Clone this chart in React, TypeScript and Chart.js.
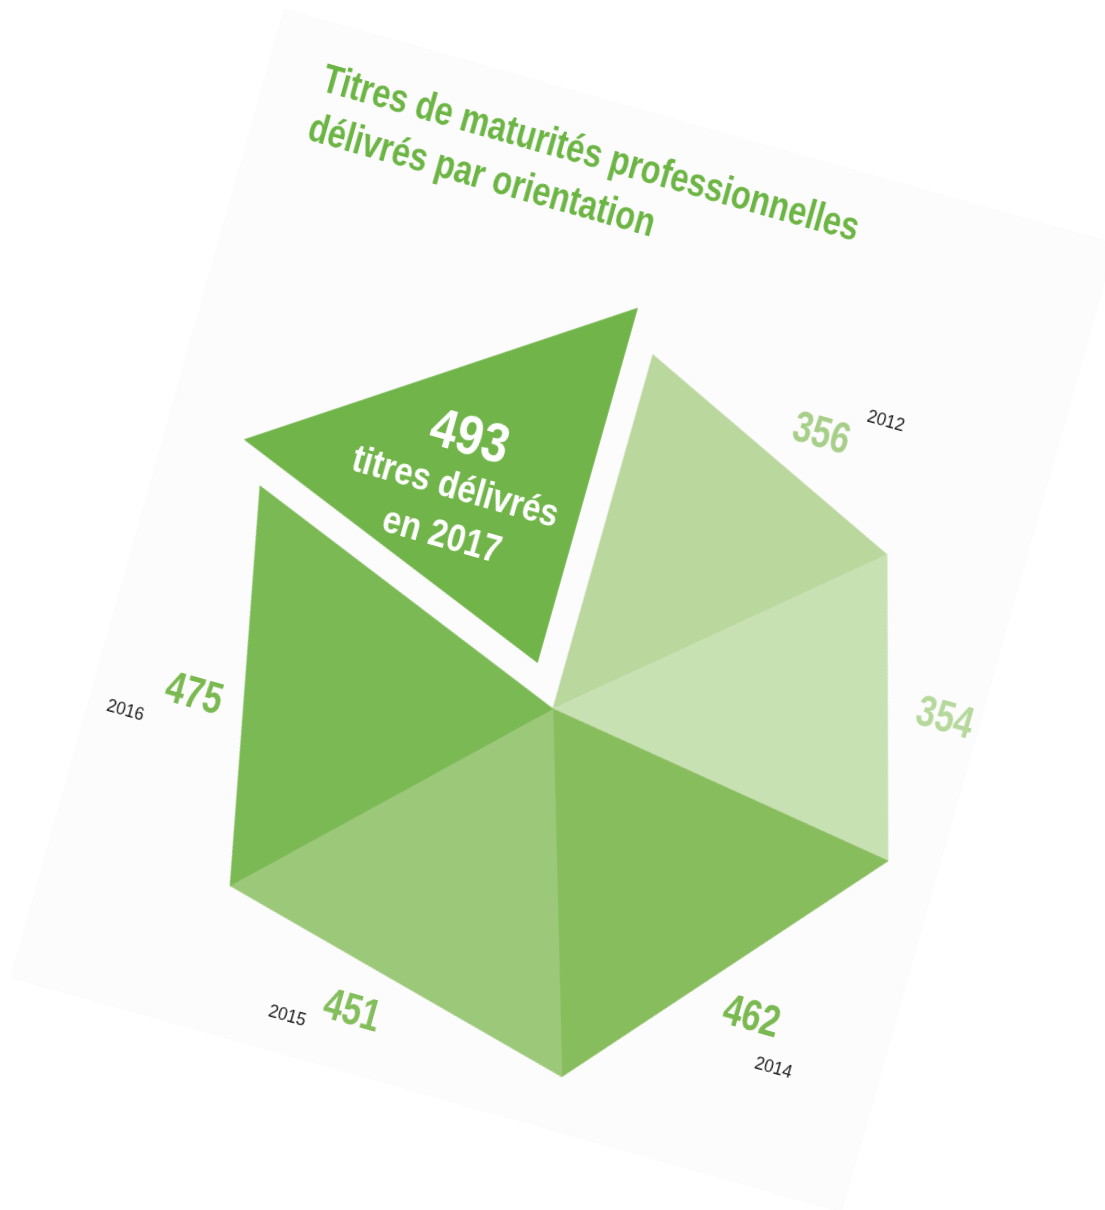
import React, { useEffect, useRef } from 'react';
import { Chart, registerables } from 'chart.js';

Chart.register(...registerables);

// ---- data ----
const years = ['2012', '2013', '2014', '2015', '2016', '2017'];
const titresDelivres = [356, 354, 462, 451, 475, 493];
const yearTags = ['2012', '', '2014', '2015', '2016', ''];
const sliceColors = ['#bad79e', '#c8e1b2', '#88bd5e', '#9cc879', '#7ab953', '#71b44a'];
const valueColors = ['#a8cf8a', '#b6d89d', '#7ab850', '#84be5c', '#7ab850', '#ffffff'];
const titleLines = ['Titres de maturités professionnelles', 'délivrés par orientation'];
const highlightLines = ['titres délivrés', 'en ' + years[years.length - 1]];

// ---- styling / layout constants ----
const SANS = "'Liberation Sans', Arial, Helvetica, 'DejaVu Sans', sans-serif";
const CARD_W = 862;
const CARD_H = 1005;
const CANVAS_H = 1100;
const CARD_CX = 563.2;
const CARD_CY = 610.7;
const ROT_DEG = 15.77;
const RADIUS = 368;
const EXPLODE = 49;
const labelAngleNudge = [3.9, 1.8, 0.9, 3.6, -2.2, 0];
const labelGap = [49, 57, 56, 50, 51, 0];
const yearOffsets: number[][] = [[58.7, -30.4], [0, 0], [34.9, 41.4], [-61, 20.8], [-61.6, 32.9], [0, 0]];
const DEG = Math.PI / 180;

function slicePoints(arc: any): number[][] {
  const off = (arc.options && arc.options.offset) || 0;
  const mid = (arc.startAngle + arc.endAngle) / 2;
  const cx = arc.x + Math.cos(mid) * off;
  const cy = arc.y + Math.sin(mid) * off;
  const r = arc.outerRadius;
  return [
    [cx, cy],
    [cx + r * Math.cos(arc.startAngle), cy + r * Math.sin(arc.startAngle)],
    [cx + r * Math.cos(arc.endAngle), cy + r * Math.sin(arc.endAngle)],
  ];
}

// draws text with a horizontal condensing factor (condensed-font look)
function drawText(
  ctx: CanvasRenderingContext2D,
  text: string,
  x: number,
  y: number,
  font: string,
  color: string,
  sx = 1,
  align: CanvasTextAlign = 'center',
  baseline: CanvasTextBaseline = 'middle',
) {
  ctx.save();
  ctx.translate(x, y);
  ctx.scale(sx, 1);
  ctx.font = font;
  ctx.fillStyle = color;
  ctx.textAlign = align;
  ctx.textBaseline = baseline;
  ctx.fillText(text, 0, 0);
  ctx.restore();
}

const cardTitle = {
  id: 'cardTitle',
  afterDraw(chart: any, _args: any, opts: any) {
    const ctx: CanvasRenderingContext2D = chart.ctx;
    const font = `bold ${opts.size}px ${SANS}`;
    ctx.save();
    ctx.font = font;
    const w = ctx.measureText(opts.lines[0]).width;
    ctx.restore();
    const sx = w > 0 ? opts.firstLineWidth / w : 1;
    opts.lines.forEach((line: string, i: number) => {
      drawText(ctx, line, opts.x, opts.baseline + i * opts.lineHeight, font, opts.color, sx, 'left', 'alphabetic');
    });
  },
};

const hexSlices = {
  id: 'hexSlices',
  beforeDatasetDraw(chart: any, args: any) {
    const ctx: CanvasRenderingContext2D = chart.ctx;
    args.meta.data.forEach((arc: any) => {
      const pts = slicePoints(arc);
      const color = arc.options.backgroundColor;
      ctx.save();
      ctx.beginPath();
      ctx.moveTo(pts[0][0], pts[0][1]);
      ctx.lineTo(pts[1][0], pts[1][1]);
      ctx.lineTo(pts[2][0], pts[2][1]);
      ctx.closePath();
      ctx.fillStyle = color;
      ctx.fill();
      ctx.strokeStyle = color;
      ctx.lineWidth = 0.8;
      ctx.stroke();
      ctx.restore();
    });
    return false;
  },
};

const sliceLabels = {
  id: 'sliceLabels',
  afterDatasetsDraw(chart: any) {
    const ctx: CanvasRenderingContext2D = chart.ctx;
    const meta = chart.getDatasetMeta(0);
    const values = chart.data.datasets[0].data as number[];
    meta.data.forEach((arc: any, i: number) => {
      const off = (arc.options && arc.options.offset) || 0;
      if (off > 0) {
        const pts = slicePoints(arc);
        const gx = (pts[0][0] + pts[1][0] + pts[2][0]) / 3 - 12.3;
        const gy = (pts[0][1] + pts[1][1] + pts[2][1]) / 3;
        drawText(ctx, String(values[i]), gx, gy - 28.9, `bold 56px ${SANS}`, valueColors[i], 0.85);
        drawText(ctx, highlightLines[0], gx, gy + 22.8, `bold 38px ${SANS}`, valueColors[i], 0.86);
        drawText(ctx, highlightLines[1], gx, gy + 72.4, `bold 38px ${SANS}`, valueColors[i], 0.87);
        return;
      }
      const half = (arc.endAngle - arc.startAngle) / 2;
      const mid = (arc.startAngle + arc.endAngle) / 2 + labelAngleNudge[i] * DEG;
      const r = arc.outerRadius * Math.cos(half) + labelGap[i];
      const x = arc.x + Math.cos(mid) * r;
      const y = arc.y + Math.sin(mid) * r;
      drawText(ctx, String(values[i]), x, y, `bold 44px ${SANS}`, valueColors[i], 0.78);
      if (yearTags[i]) {
        drawText(ctx, yearTags[i], x + yearOffsets[i][0], y + yearOffsets[i][1], `18px ${SANS}`, '#1a1a1a', 0.95);
      }
    });
  },
};

export default function App() {
  const canvasRef = useRef<HTMLCanvasElement | null>(null);

  useEffect(() => {
    const canvas = canvasRef.current;
    if (!canvas) return;
    const chart = new Chart(canvas, {
      type: 'pie',
      data: {
        labels: years,
        datasets: [
          {
            data: titresDelivres,
            backgroundColor: sliceColors,
            borderWidth: 0,
            offset: titresDelivres.map((_, i) => (i === titresDelivres.length - 1 ? EXPLODE : 0)),
          } as any,
        ],
      },
      options: {
        responsive: false,
        animation: false,
        events: [],
        radius: RADIUS,
        rotation: 0,
        layout: { padding: { left: 54, right: 20, top: 130, bottom: 30.2 } },
        plugins: {
          legend: { display: false },
          tooltip: { enabled: false },
          title: { display: false },
          cardTitle: {
            lines: titleLines,
            color: '#6cb544',
            size: 41,
            x: 55.5,
            baseline: 67.5,
            lineHeight: 51.7,
            firstLineWidth: 556,
          },
        },
      } as any,
      plugins: [hexSlices, sliceLabels, cardTitle],
    });
    return () => chart.destroy();
  }, []);

  return (
    <div style={{ position: 'fixed', inset: 0, overflow: 'hidden', background: '#ffffff' }}>
      <div
        style={{
          position: 'absolute',
          left: CARD_CX - CARD_W / 2,
          top: CARD_CY - CARD_H / 2,
          width: CARD_W,
          height: CARD_H,
          background: '#fcfcfc',
          boxShadow: '0 0 2px rgba(0,0,0,0.05)',
          transform: `rotate(${ROT_DEG}deg)`,
          transformOrigin: '50% 50%',
        }}
      >
        <canvas
          ref={canvasRef}
          width={CARD_W}
          height={CANVAS_H}
          style={{ position: 'absolute', left: 0, top: 0, width: CARD_W, height: CANVAS_H }}
        />
      </div>
    </div>
  );
}
